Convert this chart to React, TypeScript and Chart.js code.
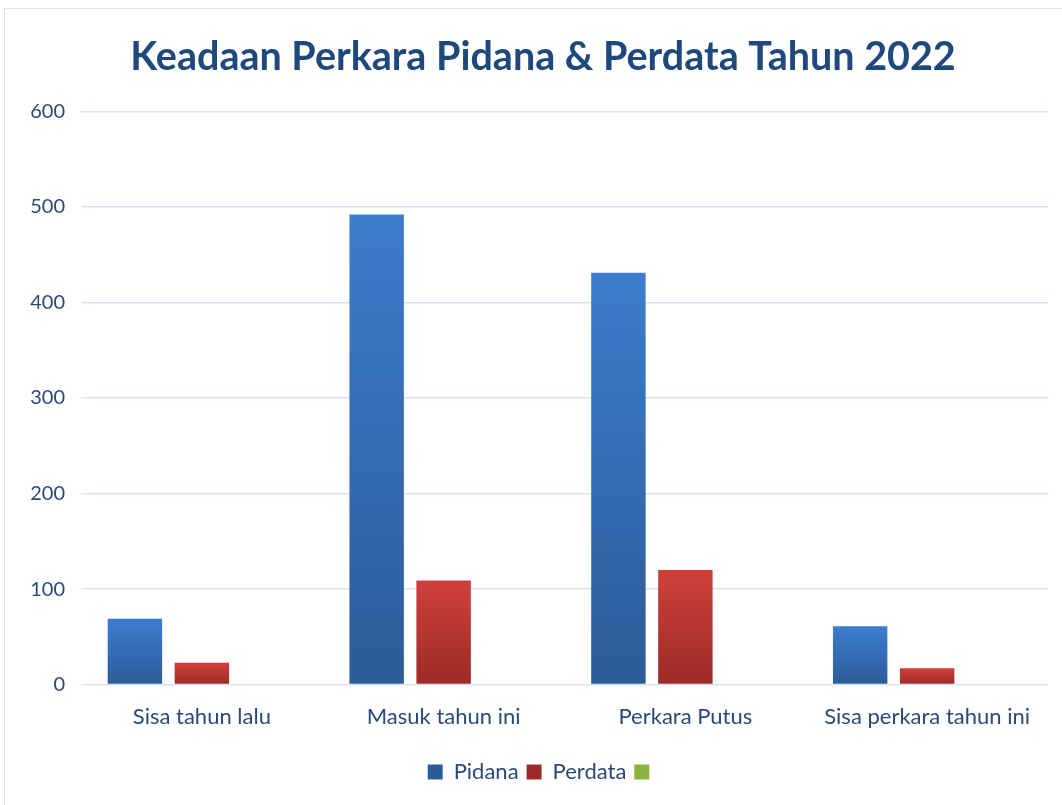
import React, { useEffect, useRef } from "react";
import { Chart, registerables } from "chart.js";

Chart.register(...registerables);

const categories = ["Sisa tahun lalu", "Masuk tahun ini", "Perkara Putus", "Sisa perkara tahun ini"];
const pidana = [69, 492, 431, 61];
const perdata = [23, 109, 120, 17];
const ketiga: (number | null)[] = [null, null, null, null];
const yTicks = [0, 100, 200, 300, 400, 500, 600];

const TEXT = "#2A4A7A";
const FONT = "Lato, 'Open Sans', sans-serif";

function gradientFor(top: string, bottom: string) {
  return (ctx: any) => {
    const chart = ctx.chart;
    const y = chart.scales?.y;
    if (!y || ctx.parsed == null || ctx.parsed.y == null) return top;
    const y0 = y.getPixelForValue(ctx.parsed.y);
    const y1 = y.getPixelForValue(0);
    if (!isFinite(y0) || !isFinite(y1) || y0 === y1) return top;
    const g = chart.ctx.createLinearGradient(0, y0, 0, y1);
    g.addColorStop(0, top);
    g.addColorStop(1, bottom);
    return g;
  };
}

const shiftBlocks = {
  id: "shiftBlocks",
  afterLayout(chart: any) {
    const t = chart.titleBlock;
    if (t) {
      t.left += 14;
      t.right += 14;
    }
    const l = chart.legend;
    if (l) {
      l.left += 15;
      l.right += 15;
    }
  },
};

export default function App() {
  const ref = useRef<HTMLCanvasElement | null>(null);
  useEffect(() => {
    document.body.style.margin = "0";
    const chart = new Chart(ref.current!, {
      type: "bar",
      data: {
        labels: categories,
        datasets: [
          { label: "Pidana", data: pidana, backgroundColor: gradientFor("#3C7DCD", "#2C5B99") as any },
          { label: "Perdata", data: perdata, backgroundColor: gradientFor("#D0403B", "#9C2B27") as any },
          { label: "", data: ketiga as any, backgroundColor: "#8CB33F" },
        ],
      },
      plugins: [shiftBlocks],
      options: {
        animation: false,
        responsive: false,
        maintainAspectRatio: false,
        categoryPercentage: 0.831,
        barPercentage: 0.813,
        layout: { padding: { left: 10, right: 14, top: 0, bottom: 12 } },
        plugins: {
          title: {
            display: true,
            text: "Keadaan Perkara Pidana & Perdata Tahun 2022",
            color: "#1F497D",
            font: { family: FONT, size: 39.5, weight: "bold" },
            padding: { top: 34, bottom: 30 },
          },
          legend: {
            position: "bottom",
            labels: {
              color: TEXT,
              font: { family: FONT, size: 22 },
              boxWidth: 15,
              boxHeight: 15,
              padding: 8,
            },
          },
          tooltip: { enabled: false },
        },
        scales: {
          x: {
            grid: { display: false },
            border: { display: false },
            ticks: { color: TEXT, font: { family: FONT, size: 22 }, padding: 11 },
            afterFit: (s: any) => {
              s.height += 12;
            },
          },
          y: {
            min: 0,
            max: 600,
            afterBuildTicks: (s: any) => {
              s.ticks = yTicks.map((v) => ({ value: v }));
            },
            grid: { color: "#D9E2EF", lineWidth: 1.5, drawTicks: false },
            border: { display: false },
            ticks: { color: TEXT, font: { family: FONT, size: 20 }, padding: 16 },
            afterFit: (s: any) => {
              s.width = 71;
            },
          },
        },
      },
    });
    return () => chart.destroy();
  }, []);
  return (
    <div style={{ position: "fixed", left: 0, top: 0, width: 1062, height: 805, background: "#fff" }}>
      <div
        style={{
          position: "absolute",
          left: 4,
          top: 8,
          width: 1070,
          height: 800,
          border: "1.5px solid #DCE3EC",
          boxSizing: "border-box",
        }}
      />
      <canvas ref={ref} width={1062} height={805} style={{ position: "absolute", left: 0, top: 0 }} />
    </div>
  );
}
